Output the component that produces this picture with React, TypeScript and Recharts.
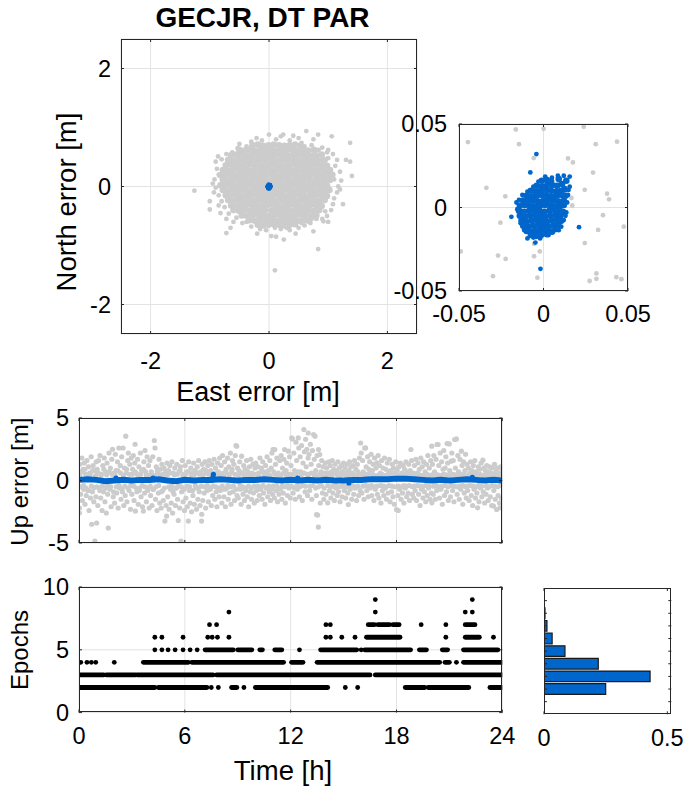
import React from 'react';
import { ScatterChart, Scatter, XAxis, YAxis, CartesianGrid, BarChart, Bar } from 'recharts';

type Pt = [number, number];

const FONT = '"Liberation Sans", Arial, Helvetica, sans-serif';
const GRAY = '#cccccc';
const BLUE = '#0066cc';
const AX = '#262626';
const GRID = '#e3e3e3';

// ---------- Horizontal errors (East, North) [m] ----------
const grayCore: Pt[] = [
  [-0.28,0.70],[-0.19,0.71],[-0.10,0.69],[-0.01,0.70],[0.08,0.71],[0.17,0.70],[0.26,0.69],[0.35,0.70],[0.44,0.71],[0.53,0.69],
  [-0.50,0.62],[-0.41,0.61],[-0.32,0.62],[-0.24,0.61],[-0.14,0.62],[-0.05,0.61],[0.04,0.62],[0.12,0.61],[0.22,0.62],[0.30,0.61],[0.40,0.62],[0.48,0.61],[0.58,0.62],[0.66,0.61],[0.76,0.62],
  [-0.64,0.53],[-0.55,0.54],[-0.46,0.53],[-0.37,0.52],[-0.28,0.53],[-0.19,0.54],[-0.10,0.53],[-0.01,0.52],[0.08,0.53],[0.17,0.54],[0.26,0.53],[0.35,0.52],[0.44,0.53],[0.53,0.54],[0.62,0.53],[0.71,0.52],[0.80,0.53],[0.89,0.54],
  [-0.69,0.45],[-0.60,0.44],[-0.51,0.45],[-0.42,0.44],[-0.33,0.45],[-0.24,0.44],[-0.15,0.45],[-0.06,0.44],[0.04,0.45],[0.13,0.44],[0.22,0.45],[0.31,0.44],[0.40,0.45],[0.49,0.44],[0.58,0.45],[0.67,0.44],[0.76,0.45],[0.85,0.44],[0.94,0.45],
  [-0.73,0.36],[-0.64,0.37],[-0.55,0.36],[-0.46,0.35],[-0.37,0.36],[-0.28,0.37],[-0.19,0.36],[-0.10,0.35],[-0.01,0.36],[0.08,0.37],[0.17,0.36],[0.26,0.35],[0.35,0.36],[0.44,0.37],[0.53,0.36],[0.62,0.35],[0.71,0.36],[0.80,0.37],[0.89,0.36],[0.98,0.35],
  [-0.78,0.28],[-0.69,0.27],[-0.60,0.28],[-0.51,0.27],[-0.42,0.28],[-0.33,0.27],[-0.24,0.28],[-0.15,0.27],[-0.06,0.28],[0.04,0.27],[0.13,0.28],[0.22,0.27],[0.31,0.28],[0.40,0.27],[0.49,0.28],[0.58,0.27],[0.67,0.28],[0.76,0.27],[0.85,0.28],[0.94,0.27],[1.03,0.28],
  [-0.82,0.19],[-0.73,0.20],[-0.64,0.19],[-0.55,0.18],[-0.46,0.19],[-0.37,0.20],[-0.28,0.19],[-0.19,0.18],[-0.10,0.19],[-0.01,0.20],[0.08,0.19],[0.17,0.18],[0.26,0.19],[0.35,0.20],[0.44,0.19],[0.53,0.18],[0.62,0.19],[0.71,0.20],[0.80,0.19],[0.89,0.18],[0.98,0.19],[1.07,0.20],
  [-0.78,0.11],[-0.69,0.10],[-0.60,0.11],[-0.51,0.10],[-0.42,0.11],[-0.33,0.10],[-0.24,0.11],[-0.15,0.10],[-0.06,0.11],[0.04,0.10],[0.13,0.11],[0.22,0.10],[0.31,0.11],[0.40,0.10],[0.49,0.11],[0.58,0.10],[0.67,0.11],[0.76,0.10],[0.85,0.11],[0.94,0.10],[1.03,0.11],
  [-0.82,0.02],[-0.73,0.03],[-0.64,0.02],[-0.55,0.01],[-0.46,0.02],[-0.37,0.03],[-0.28,0.02],[-0.19,0.01],[-0.10,0.02],[0.08,0.03],[0.17,0.02],[0.26,0.01],[0.35,0.02],[0.44,0.03],[0.53,0.02],[0.62,0.01],[0.71,0.02],[0.80,0.03],[0.89,0.02],[0.98,0.01],
  [-0.78,-0.06],[-0.69,-0.07],[-0.60,-0.06],[-0.51,-0.07],[-0.42,-0.06],[-0.33,-0.07],[-0.24,-0.06],[-0.15,-0.07],[-0.06,-0.065],[0.04,-0.07],[0.13,-0.06],[0.22,-0.07],[0.31,-0.06],[0.40,-0.07],[0.49,-0.06],[0.58,-0.07],[0.67,-0.06],[0.76,-0.07],[0.85,-0.06],[0.94,-0.07],[1.02,-0.06],
  [-0.73,-0.15],[-0.64,-0.14],[-0.55,-0.15],[-0.46,-0.16],[-0.37,-0.15],[-0.28,-0.14],[-0.19,-0.15],[-0.10,-0.16],[-0.01,-0.15],[0.08,-0.14],[0.17,-0.15],[0.26,-0.16],[0.35,-0.15],[0.44,-0.14],[0.53,-0.15],[0.62,-0.16],[0.71,-0.15],[0.80,-0.14],[0.89,-0.15],[0.98,-0.16],
  [-0.69,-0.23],[-0.60,-0.24],[-0.51,-0.23],[-0.42,-0.24],[-0.33,-0.23],[-0.24,-0.24],[-0.15,-0.23],[-0.06,-0.24],[0.04,-0.23],[0.13,-0.24],[0.22,-0.23],[0.31,-0.24],[0.40,-0.23],[0.49,-0.24],[0.58,-0.23],[0.67,-0.24],[0.76,-0.23],[0.85,-0.24],[0.94,-0.23],
  [-0.64,-0.32],[-0.55,-0.33],[-0.46,-0.32],[-0.37,-0.31],[-0.28,-0.32],[-0.19,-0.33],[-0.10,-0.32],[-0.01,-0.31],[0.08,-0.32],[0.17,-0.33],[0.26,-0.32],[0.35,-0.31],[0.44,-0.32],[0.53,-0.33],[0.62,-0.32],[0.71,-0.31],[0.80,-0.32],[0.89,-0.33],
  [-0.60,-0.40],[-0.51,-0.41],[-0.42,-0.40],[-0.33,-0.41],[-0.24,-0.40],[-0.15,-0.41],[-0.06,-0.40],[0.04,-0.41],[0.13,-0.40],[0.22,-0.41],[0.31,-0.40],[0.40,-0.41],[0.49,-0.40],[0.58,-0.41],[0.67,-0.40],[0.76,-0.41],[0.85,-0.40],
  [-0.46,-0.49],[-0.37,-0.50],[-0.28,-0.49],[-0.19,-0.48],[-0.10,-0.49],[-0.01,-0.50],[0.08,-0.49],[0.17,-0.48],[0.26,-0.49],[0.35,-0.50],[0.44,-0.49],[0.53,-0.48],[0.62,-0.49],[0.71,-0.50],[0.80,-0.49],
  [-0.33,-0.57],[-0.24,-0.58],[-0.15,-0.57],[-0.06,-0.58],[0.04,-0.57],[0.13,-0.58],[0.22,-0.57],[0.31,-0.58],[0.40,-0.57],[0.49,-0.58],[0.58,-0.57],[0.67,-0.58],
  [-0.19,-0.65],[-0.10,-0.66],[-0.01,-0.65],[0.08,-0.64],[0.17,-0.65],[0.26,-0.66],[0.35,-0.65],[0.44,-0.64],
];

const grayEdge: Pt[] = [
  [-0.21,0.82],[0.0,0.88],[0.24,0.88],[0.41,0.86],[0.63,0.94],[0.83,0.88],[1.06,0.85],[-0.38,0.68],[-0.53,0.65],[0.12,0.80],
  [0.35,0.78],[0.55,0.74],[0.72,0.70],[0.9,0.66],[-0.12,0.78],[1.0,0.62],[1.08,0.55],[1.37,0.74],[-0.3,0.76],[0.6,0.68],
  [0.84,0.62],[-0.62,0.58],[-0.72,0.55],[-0.5,0.72],[0.2,0.85],[0.5,0.82],[0.75,0.8],
  [-0.86,0.51],[-0.9,0.42],[-0.88,0.3],[-0.92,0.12],[-0.9,-0.02],[-1.26,-0.07],[-1.0,-0.25],[-1.0,-0.39],[-0.85,-0.32],
  [-0.82,-0.45],[-0.72,-0.55],[-0.6,-0.6],[-0.72,-0.79],[-0.85,-0.15],[-0.8,-0.25],[-0.75,-0.35],[-0.68,-0.46],[-0.55,-0.53],
  [-0.85,0.2],[-0.8,0.46],[-0.95,0.05],[-0.93,-0.1],[-0.65,-0.7],
  [1.37,0.42],[1.4,0.18],[1.17,0.0],[1.12,0.35],[1.15,-0.1],[1.25,-0.3],[1.1,-0.2],[1.05,-0.4],[0.98,-0.5],[1.2,0.25],
  [1.15,0.45],[1.22,0.1],[1.1,0.12],[1.08,-0.3],[0.95,-0.42],[0.9,-0.55],[1.0,0.48],[0.98,0.58],[1.2,-0.05],[1.0,-0.6],[1.3,0.45],
  [-0.45,-0.62],[-0.3,-0.68],[-0.15,-0.72],[-0.05,-0.74],[0.04,-0.84],[0.12,-0.85],[0.25,-0.9],[0.35,-0.74],[0.5,-0.7],
  [0.6,-0.66],[0.75,-0.76],[0.92,-0.59],[0.83,-1.06],[0.1,-1.42],[0.7,-0.62],[0.8,-0.55],[0.2,-0.72],[-0.38,-0.6],
  [0.55,-0.62],[0.3,-0.7],[0.1,-0.7],[0.72,-0.55],[0.45,-0.8],[-0.2,-0.8],
];

const grayNearZero: Pt[] = [
  [-0.0164,0.0467],[0.0001,0.0471],[0.0238,0.0483],[-0.0447,0.0392],[-0.0145,0.0379],[0.0309,0.0379],[0.0435,0.0394],
  [-0.0058,0.0296],[0.0145,0.0294],[0.0174,0.027],[0.0293,0.0209],[-0.0338,0.0118],[-0.0226,0.0067],[-0.0121,0.006],
  [0.0244,0.0106],[0.0376,0.0083],[0.0388,0.0049],[0.0165,0.0057],[0.017,0.0012],[0.0352,-0.0046],[-0.0255,-0.0091],
  [0.0323,-0.0134],[0.0475,-0.0115],[0.0244,-0.0213],[-0.0056,-0.0217],[-0.0022,-0.0263],[-0.049,-0.0263],[-0.0269,-0.0288],
  [-0.0224,-0.0308],[-0.0056,-0.0292],[-0.0299,-0.0411],[-0.0036,-0.042],[0.0273,-0.044],[0.0313,-0.0395],[0.0313,-0.0427],
  [0.0431,-0.0417],[0.0461,-0.0429],
];

const blueCore: Pt[] = [
  [-0.001,0.016],[0.002,0.0165],[0.0045,0.0155],
  [-0.004,0.013],[-0.001,0.0125],[0.002,0.013],[0.005,0.0135],[0.008,0.013],[0.011,0.014],[0.0135,0.016],[0.009,0.017],
  [-0.0075,0.01],[-0.0045,0.0095],[-0.0015,0.01],[0.0015,0.0105],[0.0045,0.01],[0.0075,0.0095],[0.0105,0.01],[0.0125,0.011],
  [-0.01,0.007],[-0.007,0.0065],[-0.004,0.007],[-0.001,0.0075],[0.002,0.007],[0.005,0.0065],[0.008,0.007],[0.011,0.0075],[0.013,0.007],
  [-0.012,0.004],[-0.009,0.0045],[-0.006,0.004],[-0.003,0.0035],[0,0.004],[0.003,0.0045],[0.006,0.004],[0.009,0.0035],[0.012,0.004],
  [-0.014,0.001],[-0.011,0.0015],[-0.008,0.001],[-0.005,0.0005],[-0.002,0.001],[0.001,0.0015],[0.004,0.001],[0.007,0.0005],[0.01,0.001],[0.012,0.0015],
  [-0.0145,-0.002],[-0.0115,-0.0025],[-0.0085,-0.002],[-0.0055,-0.0015],[-0.0025,-0.002],[0.0005,-0.0025],[0.0035,-0.002],[0.0065,-0.0015],[0.0095,-0.002],[0.0115,-0.0025],
  [-0.014,-0.005],[-0.011,-0.0055],[-0.008,-0.005],[-0.005,-0.0045],[-0.002,-0.005],[0.001,-0.0055],[0.004,-0.005],[0.007,-0.0045],[0.01,-0.005],
  [-0.013,-0.008],[-0.01,-0.0085],[-0.007,-0.008],[-0.004,-0.0075],[-0.001,-0.008],[0.002,-0.0085],[0.005,-0.008],[0.008,-0.0075],[0.0105,-0.008],
  [-0.012,-0.011],[-0.009,-0.0115],[-0.006,-0.011],[-0.003,-0.0105],[0,-0.011],[0.003,-0.0115],[0.006,-0.011],[0.0085,-0.0105],
  [-0.01,-0.014],[-0.007,-0.0145],[-0.004,-0.014],[-0.001,-0.0135],[0.002,-0.014],[0.005,-0.0145],
  [-0.0075,-0.0165],[-0.0045,-0.017],[-0.0015,-0.0165],[0.002,-0.016],
];

const blueEdge: Pt[] = [
  [-0.0155,-0.001],[-0.016,0.003],[-0.0135,-0.0095],[-0.0115,-0.0135],[-0.0095,-0.0185],[-0.006,-0.018],[-0.002,-0.0185],
  [0.003,-0.0165],[0.0072,-0.0135],[0.009,-0.0136],[0.0105,-0.0115],[0.012,-0.0075],[0.013,-0.005],[0.0135,-0.003],
  [0.014,0.003],[0.0145,0.0075],[0.0148,0.0105],[0.0155,0.0125],[0.0155,0.0185],[0.012,0.019],[0.0085,0.019],[0.005,0.0178],
  [0.001,0.0185],[-0.003,0.0155],[-0.006,0.0125],[-0.0095,0.0095],[-0.0125,0.0075],[-0.0145,0.0045],
  [-0.0042,0.032],[-0.0078,0.021],[-0.019,-0.0056],[0.021,-0.0118],[-0.0018,-0.0367],[-0.0048,-0.021],
];

// ---------- Up error [m] vs time [h] ----------
const upGray: Pt[] = [
  [0.02,-2.6],[0.03,-2.2],[0.05,1.3],[0.09,-1.1],[0.12,0.7],[0.16,1.8],[0.19,-1.6],[0.23,0.9],[0.27,-0.7],[0.3,1.4],[0.34,-1.9],[0.38,0.5],[0.41,-1.2],[0.45,1.6],[0.5,-0.8],[0.54,1.1],[0.57,-2.4],[0.61,0.6],[0.65,-1.4],[0.69,1.9],[0.72,-3.5],[0.76,-0.9],[0.8,1.2],[0.84,-1.7],[0.9,-4.85],[0.92,0.8],[0.96,-1.3],[0.98,1.5],
  [1.0,-3.4],[1.03,0.9],[1.07,-2.0],[1.11,1.6],[1.15,-0.6],[1.19,2.0],[1.23,-1.4],[1.27,0.5],[1.31,-2.4],[1.35,1.2],[1.39,-0.9],[1.43,1.8],[1.47,-1.7],[1.51,0.7],[1.55,-2.6],[1.59,1.4],[1.63,-1.1],[1.66,-3.8],[1.7,2.2],[1.74,-0.7],[1.78,1.0],[1.82,-2.1],[1.86,1.7],[1.9,2.5],[1.94,-1.3],[1.98,0.6],
  [2.02,-1.8],[2.06,2.1],[2.1,0.8],[2.14,-1.0],[2.18,1.5],[2.22,-2.2],[2.26,2.6],[2.3,-0.6],[2.34,1.2],[2.38,-1.5],[2.42,1.9],[2.46,-0.9],[2.5,2.6],[2.54,-2.0],[2.58,1.0],[2.62,-1.2],[2.65,3.55],[2.68,0.6],[2.72,-1.7],[2.76,1.6],[2.8,2.2],[2.84,-0.8],[2.88,1.3],[2.92,-2.3],[2.96,1.8],
  [3.0,-1.1],[3.04,0.9],[3.08,2.0],[3.12,-1.6],[3.16,1.4],[3.18,2.9],[3.2,-2.45],[3.24,0.6],[3.28,-0.9],[3.32,1.7],[3.36,-1.9],[3.4,1.1],[3.44,-0.6],[3.48,2.2],[3.52,-1.3],[3.56,0.8],[3.6,-2.1],[3.65,-2.45],[3.68,1.5],[3.72,-1.0],[3.74,2.4],[3.78,0.7],[3.82,-1.7],[3.86,1.9],[3.9,-0.8],[3.94,1.2],[3.98,-2.2],
  [4.02,1.6],[4.06,-1.2],[4.1,0.7],[4.14,-2.0],[4.18,1.9],[4.22,-0.7],[4.27,3.2],[4.31,2.6],[4.34,-1.5],[4.38,1.1],[4.42,-2.4],[4.46,0.6],[4.5,-1.0],[4.54,1.7],[4.58,-1.8],[4.62,0.9],[4.66,-2.2],[4.7,1.3],[4.74,-0.8],[4.78,-1.6],[4.82,1.0],[4.87,-3.25],[4.9,0.5],[4.94,-2.0],[4.97,-2.85],[4.99,1.4],
  [5.03,-1.3],[5.07,0.8],[5.11,-2.3],[5.15,1.2],[5.19,-0.7],[5.23,-1.8],[5.27,1.5],[5.31,-2.6],[5.35,0.6],[5.39,-1.1],[5.43,1.0],[5.47,-2.0],[5.51,-0.6],[5.55,1.3],[5.59,-1.5],[5.63,-3.2],[5.67,0.7],[5.71,-2.2],[5.75,1.1],[5.78,-4.85],[5.82,-0.9],[5.86,1.6],[5.9,-1.7],[5.94,0.5],[5.98,-2.4],
  [6.02,1.2],[6.06,-1.4],[6.1,0.7],[6.14,-2.1],[6.2,-3.25],[6.22,1.5],[6.26,-0.8],[6.3,-1.8],[6.34,1.0],[6.38,-2.5],[6.42,0.6],[6.46,-1.2],[6.5,1.4],[6.54,-1.9],[6.58,0.8],[6.62,-0.6],[6.66,-2.3],[6.7,1.1],[6.74,-1.5],[6.78,1.6],[6.82,-0.9],[6.86,-2.0],[6.9,0.7],[6.95,-3.25],[6.96,-2.7],[6.98,1.3],
  [7.02,-1.6],[7.06,0.9],[7.1,-1.0],[7.14,1.5],[7.18,-2.2],[7.22,0.6],[7.26,-0.8],[7.3,1.2],[7.34,-1.7],[7.38,1.6],[7.42,-0.6],[7.46,0.8],[7.5,-2.0],[7.54,1.3],[7.58,-1.2],[7.62,0.5],[7.66,1.7],[7.7,-1.5],[7.74,1.0],[7.78,-0.9],[7.82,-2.1],[7.86,1.4],[7.9,0.7],[7.94,-1.3],[7.98,1.8],
  [8.02,-0.8],[8.06,1.2],[8.1,-1.8],[8.14,2.0],[8.18,0.6],[8.22,-1.3],[8.26,1.5],[8.3,-2.1],[8.34,0.9],[8.38,-0.6],[8.42,1.8],[8.46,-1.5],[8.5,1.1],[8.54,-1.0],[8.58,2.2],[8.62,-1.9],[8.66,0.7],[8.7,1.6],[8.74,-0.9],[8.78,1.3],[8.82,-1.6],[8.86,2.0],[8.9,2.8],[8.94,2.75],[8.96,-1.2],[8.99,1.0],
  [9.03,-1.4],[9.07,0.8],[9.11,1.5],[9.15,-0.7],[9.19,-1.9],[9.22,1.95],[9.26,0.6],[9.3,-1.1],[9.34,1.2],[9.38,-1.6],[9.42,0.9],[9.46,-0.6],[9.5,1.6],[9.54,-1.3],[9.58,0.7],[9.62,-2.1],[9.66,1.1],[9.7,-0.9],[9.74,1.7],[9.78,-1.5],[9.82,0.6],[9.86,1.3],[9.9,-1.0],[9.94,-1.8],[9.98,1.0],
  [10.02,1.4],[10.06,-0.8],[10.1,-1.6],[10.14,1.1],[10.18,0.6],[10.22,-1.2],[10.26,1.8],[10.3,-0.7],[10.34,1.0],[10.38,-1.5],[10.42,1.5],[10.46,-1.0],[10.5,0.7],[10.54,-1.9],[10.58,1.2],[10.62,-0.6],[10.66,1.9],[10.7,-1.3],[10.74,0.8],[10.78,-0.9],[10.82,1.6],[10.86,-1.6],[10.9,1.0],[10.94,2.2],[10.98,-1.1],
  [11.0,2.48],[11.04,0.7],[11.08,-1.4],[11.1,2.48],[11.14,1.3],[11.18,-0.8],[11.22,1.8],[11.26,-1.7],[11.3,0.6],[11.34,-1.1],[11.38,1.6],[11.42,-0.7],[11.46,2.0],[11.5,-1.5],[11.54,1.0],[11.58,-1.0],[11.62,1.7],[11.66,2.48],[11.7,-1.8],[11.74,0.8],[11.78,1.4],[11.82,-1.2],[11.87,2.35],[11.9,-0.6],[11.94,1.9],[11.98,-1.4],
  [12.02,1.2],[12.06,3.41],[12.1,3.33],[12.14,-1.0],[12.18,2.2],[12.22,0.8],[12.26,-1.5],[12.3,3.06],[12.34,1.6],[12.38,-0.7],[12.43,3.41],[12.46,2.6],[12.5,-1.3],[12.54,1.9],[12.58,0.7],[12.62,2.8],[12.66,-1.6],[12.7,1.4],[12.75,4.08],[12.78,2.3],[12.82,-0.9],[12.85,3.3],[12.88,1.1],[12.92,2.5],[12.96,-1.2],[12.99,1.8],
  [13.0,3.8],[13.04,2.1],[13.08,-0.8],[13.12,2.9],[13.16,1.3],[13.2,-1.5],[13.24,2.4],[13.3,3.68],[13.34,1.7],[13.38,3.55],[13.42,0.8],[13.46,-1.2],[13.47,-2.73],[13.5,2.0],[13.53,-2.77],[13.57,-3.73],[13.58,2.48],[13.6,1.2],[13.65,2.08],[13.68,-1.8],[13.72,0.7],[13.76,1.6],[13.8,-1.0],[13.84,1.1],[13.88,-1.5],[13.92,0.6],[13.96,1.4],
  [14.0,-1.1],[14.04,1.0],[14.1,-1.79],[14.12,0.6],[14.16,1.5],[14.2,-0.8],[14.24,1.2],[14.28,-1.4],[14.32,0.7],[14.36,1.6],[14.4,-1.0],[14.44,0.9],[14.48,-1.6],[14.52,1.3],[14.56,-0.6],[14.6,0.8],[14.64,-1.2],[14.68,1.5],[14.72,-0.9],[14.76,1.0],[14.8,-1.7],[14.84,0.6],[14.88,1.2],[14.92,-1.3],[14.96,0.7],
  [15.0,1.4],[15.04,-0.8],[15.08,1.0],[15.12,-1.4],[15.16,0.6],[15.2,1.3],[15.24,-1.0],[15.27,-1.92],[15.3,0.8],[15.34,1.5],[15.38,-0.7],[15.42,1.1],[15.46,-1.5],[15.5,0.6],[15.54,1.2],[15.58,-1.1],[15.62,1.6],[15.66,-0.6],[15.7,0.9],[15.74,-1.6],[15.78,1.3],[15.82,0.7],[15.86,-1.2],[15.9,1.8],[15.94,-0.8],[15.97,3.0],
  [16.0,2.2],[16.04,-1.0],[16.08,1.6],[16.12,0.7],[16.16,-1.5],[16.2,2.6],[16.25,2.61],[16.28,1.1],[16.32,-0.8],[16.36,1.9],[16.4,-1.3],[16.44,0.9],[16.48,1.5],[16.52,-0.6],[16.56,2.1],[16.6,-1.2],[16.64,0.8],[16.68,1.3],[16.72,-1.6],[16.76,1.8],[16.8,-0.7],[16.84,1.0],[16.9,1.41],[16.92,-1.1],[16.96,2.0],
  [17.0,-1.4],[17.04,1.2],[17.08,0.6],[17.12,-1.8],[17.16,1.6],[17.2,-0.8],[17.24,1.0],[17.28,-1.2],[17.32,1.8],[17.36,-0.6],[17.4,0.9],[17.44,-1.5],[17.48,1.4],[17.52,-1.0],[17.56,0.7],[17.6,1.7],[17.64,-1.7],[17.68,0.8],[17.72,-0.9],[17.76,1.3],[17.8,-1.3],[17.84,1.0],[17.88,-1.9],[17.92,0.6],[17.96,1.5],
  [18.0,-2.32],[18.04,0.8],[18.08,-1.2],[18.1,-2.4],[18.14,1.1],[18.18,-0.7],[18.22,1.4],[18.26,-1.5],[18.3,0.6],[18.34,-1.0],[18.38,1.2],[18.42,-1.8],[18.46,0.9],[18.5,-0.6],[18.54,1.5],[18.58,-1.3],[18.62,0.7],[18.66,-1.0],[18.7,1.3],[18.74,-1.6],[18.78,0.8],[18.82,2.48],[18.86,1.6],[18.9,-1.1],[18.94,0.6],[18.98,-1.4],
  [19.02,1.2],[19.06,-0.8],[19.1,1.7],[19.14,-1.6],[19.18,0.6],[19.22,1.4],[19.26,-1.1],[19.3,0.9],[19.34,-2.0],[19.38,1.8],[19.42,-0.7],[19.46,1.1],[19.5,-1.4],[19.54,1.5],[19.58,-0.9],[19.62,0.7],[19.66,-1.7],[19.7,1.3],[19.74,-1.2],[19.78,2.0],[19.82,-0.6],[19.86,1.0],[19.9,-1.5],[19.94,1.6],[19.98,-1.0],
  [20.0,2.75],[20.01,-1.79],[20.04,1.3],[20.08,-1.1],[20.12,2.0],[20.16,0.7],[20.2,-1.5],[20.24,1.7],[20.28,-0.8],[20.3,2.88],[20.36,2.88],[20.4,1.2],[20.44,-1.4],[20.48,2.2],[20.52,-0.7],[20.56,1.5],[20.6,-1.9],[20.64,0.9],[20.68,2.4],[20.72,-1.2],[20.76,1.0],[20.8,1.9],[20.84,-0.9],[20.87,2.96],[20.9,1.4],[20.94,-1.6],[20.99,2.93],
  [21.02,0.8],[21.06,-1.3],[21.1,1.55],[21.14,2.2],[21.18,-0.8],[21.22,1.6],[21.26,-1.7],[21.3,3.28],[21.34,1.0],[21.4,3.33],[21.44,-1.1],[21.48,2.0],[21.52,0.7],[21.56,-1.5],[21.6,1.7],[21.64,-0.7],[21.68,2.35],[21.72,1.2],[21.76,-1.9],[21.8,1.5],[21.84,-1.0],[21.88,0.8],[21.92,2.1],[21.96,-1.4],
  [22.0,1.3],[22.04,-0.8],[22.08,1.0],[22.12,-1.6],[22.16,0.6],[22.2,1.5],[22.24,-1.2],[22.28,0.8],[22.32,-2.0],[22.36,1.2],[22.4,-0.7],[22.44,1.6],[22.48,-1.4],[22.52,0.7],[22.56,-1.0],[22.6,-2.19],[22.64,1.1],[22.68,-1.7],[22.72,0.9],[22.76,-0.6],[22.8,1.4],[22.84,-1.3],[22.9,1.63],[22.92,-0.9],[22.96,1.0],
  [23.0,-1.8],[23.04,0.8],[23.08,-1.1],[23.12,1.2],[23.16,-0.6],[23.2,-1.6],[23.24,0.7],[23.28,1.1],[23.32,-1.3],[23.36,0.6],[23.4,-2.0],[23.44,1.0],[23.5,-2.05],[23.52,-0.8],[23.56,1.3],[23.6,-1.5],[23.64,0.7],[23.68,-2.32],[23.72,1.0],[23.76,-1.2],[23.8,0.6],[23.84,-1.8],[23.87,-2.19],[23.9,1.1],[23.94,-1.4],[23.98,0.9],
];

// small-magnitude float solutions hugging the fixed solutions
const upGrayNear: Pt[] = [
  [0.04,0.4],[0.11,-0.5],[0.18,0.7],[0.26,-0.4],[0.33,0.9],[0.4,-0.6],[0.48,0.45],[0.55,-0.8],[0.63,0.5],[0.7,-0.45],[0.78,0.8],[0.86,-0.55],[0.94,0.4],
  [1.02,-0.5],[1.1,0.6],[1.18,-0.8],[1.25,0.4],[1.33,-0.45],[1.41,0.9],[1.49,-0.6],[1.57,0.45],[1.65,-0.4],[1.72,0.7],[1.8,-0.5],[1.88,0.5],[1.96,-0.9],
  [2.04,0.45],[2.12,-0.5],[2.2,0.8],[2.28,-0.4],[2.36,0.6],[2.44,-0.7],[2.52,0.4],[2.6,-0.45],[2.7,0.9],[2.78,-0.6],[2.86,0.5],[2.94,-0.4],
  [3.02,0.5],[3.1,-0.45],[3.18,0.7],[3.26,-0.6],[3.34,0.4],[3.42,-0.8],[3.5,0.5],[3.58,-0.4],[3.66,0.9],[3.74,-0.5],[3.82,0.45],[3.9,-0.6],[3.97,0.4],
  [4.04,-0.45],[4.12,0.5],[4.2,-0.7],[4.28,0.4],[4.36,-0.5],[4.44,0.8],[4.52,-0.4],[4.6,0.45],[4.68,-0.9],[4.76,0.5],[4.84,-0.6],[4.92,0.7],
  [5.01,0.45],[5.09,-0.5],[5.17,0.6],[5.25,-0.4],[5.33,-0.9],[5.41,0.45],[5.49,-0.6],[5.57,0.5],[5.65,-0.45],[5.73,0.8],[5.81,-0.5],[5.89,0.4],[5.96,-0.7],
  [6.04,0.5],[6.12,-0.45],[6.2,0.7],[6.28,-0.5],[6.36,0.4],[6.44,-0.8],[6.52,0.45],[6.6,-0.4],[6.68,0.6],[6.76,-0.6],[6.84,0.5],[6.92,-0.45],
  [7.04,0.45],[7.12,-0.5],[7.2,0.8],[7.28,-0.4],[7.36,0.5],[7.44,-0.7],[7.52,0.4],[7.6,-0.45],[7.68,0.6],[7.76,-0.5],[7.84,0.45],[7.92,-0.6],
  [8.04,0.5],[8.12,-0.45],[8.2,0.4],[8.28,-0.7],[8.36,0.6],[8.44,-0.4],[8.52,0.45],[8.6,-0.5],[8.68,0.9],[8.76,-0.45],[8.84,0.5],[8.92,-0.7],
  [9.05,0.45],[9.13,-0.4],[9.21,0.6],[9.29,-0.5],[9.37,0.4],[9.45,-0.8],[9.53,0.5],[9.61,-0.45],[9.69,0.45],[9.77,-0.6],[9.85,0.4],[9.93,-0.45],
  [10.04,0.5],[10.12,-0.45],[10.2,0.4],[10.28,-0.5],[10.36,0.7],[10.44,-0.4],[10.52,0.45],[10.6,-0.6],[10.68,0.5],[10.76,-0.45],[10.84,0.4],[10.92,-0.7],
  [11.02,-0.45],[11.12,0.5],[11.2,-0.4],[11.28,0.45],[11.36,-0.6],[11.44,0.4],[11.52,-0.45],[11.6,0.6],[11.68,-0.5],[11.76,0.45],[11.84,-0.4],[11.92,0.5],
  [12.04,-0.45],[12.12,0.5],[12.2,-0.6],[12.28,0.45],[12.36,-0.4],[12.44,0.7],[12.52,-0.5],[12.6,0.45],[12.68,-0.4],[12.76,0.6],[12.84,-0.45],[12.92,0.5],
  [13.02,0.5],[13.1,-0.45],[13.18,0.6],[13.26,-0.4],[13.34,0.45],[13.42,-0.6],[13.5,0.4],[13.58,-0.5],[13.66,0.5],[13.74,-0.4],[13.82,0.45],[13.9,-0.6],
  [14.02,0.45],[14.1,-0.4],[14.18,0.5],[14.26,-0.5],[14.34,0.4],[14.42,-0.45],[14.5,0.6],[14.58,-0.4],[14.66,0.45],[14.74,-0.5],[14.82,0.4],[14.9,-0.45],
  [15.02,-0.4],[15.1,0.45],[15.18,-0.5],[15.26,0.4],[15.34,-0.45],[15.42,0.5],[15.5,-0.4],[15.58,0.45],[15.66,-0.5],[15.74,0.4],[15.82,-0.45],[15.92,0.5],
  [16.02,0.5],[16.1,-0.45],[16.18,0.45],[16.26,-0.4],[16.34,0.5],[16.42,-0.45],[16.5,0.6],[16.58,-0.4],[16.66,0.45],[16.74,-0.5],[16.82,0.4],[16.9,-0.45],
  [17.02,0.45],[17.1,-0.4],[17.18,0.5],[17.26,-0.45],[17.34,0.4],[17.42,-0.5],[17.5,0.45],[17.58,-0.4],[17.66,0.5],[17.74,-0.45],[17.82,0.45],[17.9,-0.5],
  [18.02,0.45],[18.1,-0.45],[18.18,0.4],[18.26,-0.5],[18.34,0.45],[18.42,-0.4],[18.5,0.5],[18.58,-0.45],[18.66,0.45],[18.74,-0.4],[18.82,0.5],[18.9,-0.5],
  [19.02,-0.45],[19.1,0.45],[19.18,-0.4],[19.26,0.5],[19.34,-0.45],[19.42,0.4],[19.5,-0.5],[19.58,0.45],[19.66,-0.4],[19.74,0.5],[19.82,-0.45],[19.9,0.4],
  [20.02,0.45],[20.1,-0.45],[20.18,0.5],[20.26,-0.4],[20.34,0.45],[20.42,-0.5],[20.5,0.4],[20.58,-0.45],[20.66,0.5],[20.74,-0.4],[20.82,0.45],[20.92,-0.5],
  [21.04,0.45],[21.12,-0.4],[21.2,0.5],[21.28,-0.45],[21.36,0.45],[21.44,-0.5],[21.52,0.4],[21.6,-0.45],[21.68,0.5],[21.76,-0.4],[21.84,0.45],[21.92,-0.5],
  [22.02,-0.45],[22.1,0.45],[22.18,-0.4],[22.26,0.5],[22.34,-0.45],[22.42,0.4],[22.5,-0.5],[22.58,0.45],[22.66,-0.4],[22.74,0.5],[22.82,-0.45],[22.9,0.4],
  [23.02,0.45],[23.1,-0.45],[23.18,0.4],[23.26,-0.5],[23.34,0.45],[23.42,-0.4],[23.5,0.5],[23.58,-0.45],[23.66,0.4],[23.74,-0.5],[23.82,0.45],[23.9,-0.4],[23.97,0.45],
];

const upBlueLine: Pt[] = [
  [0,0.05],[0.5,0.1],[1,0.05],[1.5,-0.05],[2,0],[2.5,0.05],[3,0],[3.5,0.05],[4,0.05],[4.5,0.1],[5,0],[5.5,-0.05],
  [6,0.05],[6.5,0],[7,0.05],[7.5,0.05],[8,0.1],[8.5,0.05],[9,0],[9.5,0.05],[10,0.05],[10.5,0.1],[11,0.05],[11.5,0],
  [12,0.05],[12.5,0],[13,0.05],[13.5,0],[14,0.05],[14.5,0],[15,0],[15.5,0.05],[16,0.05],[16.5,0.1],[17,0.1],[17.5,0.1],
  [18,0.15],[18.5,0.15],[19,0.1],[19.5,0.05],[20,0],[20.5,0.05],[21,0],[21.5,0.05],[22,0.1],[22.5,0.05],[23,0],[23.5,0.05],[24,0],
];
const upBlueDots: Pt[] = [[7.62,0.5],[7.6,0.3],[22.3,0.25],[2.1,0.2],[12.4,0.2],[4.2,0.2],[15.3,-0.2]];

// ---------- Fixed epochs per time [h] ----------
// runs: [epochs, start hour, end hour]
const epochRuns: [number, number, number][] = [
  [2,0,4.3],[2,4.5,7.25],[2,8.65,8.95],[2,10.0,14.1],[2,18.5,19.6],[2,19.8,22.1],[2,23.3,24],
  [3,0,1.4],[3,1.55,3.2],[3,3.3,7.6],[3,7.8,16.5],[3,16.8,24],
  [4,3.65,6.2],[4,6.4,11.6],[4,12.05,12.7],[4,13.5,20.45],[4,20.75,21.0],[4,21.8,24],
  [5,7.15,8.75],[5,9.0,9.8],[5,10.25,10.4],[5,11.1,11.5],[5,13.7,15.75],[5,16.2,18.8],[5,19.3,19.7],[5,20.6,20.9],[5,21.8,23.75],
  [6,16.3,18.2],[6,21.9,22.7],
  [7,16.4,16.75],[7,16.95,17.6],[7,17.8,18.15],[7,21.9,22.45],
];
// single epochs: [hour, epochs]
const epochDots: Pt[] = [
  [7.5,2],[7.9,2],[9.35,2],[15.1,2],[15.8,2],
  [0.1,4],[0.45,4],[0.7,4],[0.95,4],[2.0,4],[21.4,4],
  [4.3,5],[4.7,5],[5.05,5],[5.45,5],[5.9,5],[6.3,5],[6.7,5],[12.5,5],[16.0,5],
  [4.3,6],[4.7,6],[5.9,6],[7.3,6],[7.55,6],[7.85,6],[8.5,6],[14.0,6],[14.25,6],[14.9,6],[15.65,6],[20.8,6],[23.5,6],
  [7.4,7],[7.8,7],[14.0,7],[14.25,7],[19.4,7],[20.8,7],
  [8.5,8],[16.8,8],[21.9,8],[22.3,8],
  [16.8,9],[22.3,9],
];

// ---------- Histogram of epochs ----------
const histEpochs = [2, 3, 4, 5, 6, 7, 8, 9];
const histFrac = [0.25, 0.43, 0.22, 0.085, 0.033, 0.012, 0.004, 0.0015];

// ---------- tick labels ----------
const ticksEN = [-2, 0, 2];
const ticksZoom = [-0.05, 0, 0.05];
const ticksUp = [-5, 0, 5];
const ticksTime = [0, 6, 12, 18, 24];
const ticksEpochs = [0, 5, 10];
const ticksHistY = [1, 2, 3, 4, 5, 6, 7, 8, 9];
const ticksHistX = [0, 0.5];

const toXY = (a: Pt[]) => a.map(([x, y]) => ({ x, y }));

const PADT = 18, PADR = 36, YW = 84, XH = 48;
const TICK_FS = 23.5;
const TL = 3;

type Geo = { left: number; top: number; w: number; h: number };
const G1: Geo = { left: 121.3, top: 39.3, w: 296, h: 295 };
const G2: Geo = { left: 459.3, top: 123.7, w: 169, h: 167 };
const G3: Geo = { left: 79, top: 418.3, w: 423.3, h: 125 };
const G4: Geo = { left: 79, top: 586.7, w: 423.3, h: 125.6 };
const G5: Geo = { left: 543.7, top: 587.7, w: 127.3, h: 126.3 };

const fmt = (v: number) => String(v);

function makeXTick(g: Geo, show: boolean, off: number) {
  return (p: any) => {
    const x = p.x;
    const yb = PADT + g.h;
    const yt = PADT;
    return (
      <g>
        <line x1={x} x2={x} y1={yb} y2={yb - TL} stroke={AX} strokeWidth={1} />
        <line x1={x} x2={x} y1={yt} y2={yt + TL} stroke={AX} strokeWidth={1} />
        {show ? (
          <text x={x} y={yb + off + 0.358 * TICK_FS} textAnchor="middle" fontSize={TICK_FS} fontFamily={FONT} fill="#000">
            {fmt(p.payload.value)}
          </text>
        ) : null}
      </g>
    );
  };
}

function makeYTick(g: Geo, show: boolean, gap: number) {
  return (p: any) => {
    const y = p.y;
    const xl = YW;
    const xr = YW + g.w;
    return (
      <g>
        <line x1={xl} x2={xl + TL} y1={y} y2={y} stroke={AX} strokeWidth={1} />
        <line x1={xr} x2={xr - TL} y1={y} y2={y} stroke={AX} strokeWidth={1} />
        {show ? (
          <text x={xl - gap} y={y + 0.358 * TICK_FS} textAnchor="end" fontSize={TICK_FS} fontFamily={FONT} fill="#000">
            {fmt(p.payload.value)}
          </text>
        ) : null}
      </g>
    );
  };
}

const dot = (r: number, fill: string) => (p: any) => <circle cx={p.cx} cy={p.cy} r={r} fill={fill} />;
const noDot = () => <g />;

function Box({ g }: { g: Geo }) {
  return (
    <div
      style={{
        position: 'absolute', left: YW, top: PADT, width: g.w, height: g.h,
        border: `1.2px solid ${AX}`, boxSizing: 'border-box', pointerEvents: 'none',
      }}
    />
  );
}

function Panel(props: {
  g: Geo; xDomain: [number, number]; yDomain: [number, number]; xTicks: number[]; yTicks: number[];
  xLabels: boolean; yLabels: boolean; xOff?: number; yGap?: number; children?: React.ReactNode;
}) {
  const { g, xDomain, yDomain, xTicks, yTicks, xLabels, yLabels, xOff = 25, yGap = 10, children } = props;
  const W = YW + g.w + PADR;
  const H = PADT + g.h + XH;
  return (
    <div style={{ position: 'absolute', left: g.left - YW, top: g.top - PADT, width: W, height: H }}>
      <ScatterChart width={W} height={H} margin={{ top: PADT, right: PADR, bottom: 0, left: 0 }}>
        <CartesianGrid stroke={GRID} strokeWidth={1} />
        <XAxis type="number" dataKey="x" domain={xDomain} ticks={xTicks} allowDataOverflow interval={0}
          tickLine={false} axisLine={false} height={XH} tick={makeXTick(g, xLabels, xOff)} />
        <YAxis type="number" dataKey="y" domain={yDomain} ticks={yTicks} allowDataOverflow interval={0}
          tickLine={false} axisLine={false} width={YW} tick={makeYTick(g, yLabels, yGap)} />
        {children}
      </ScatterChart>
      <Box g={g} />
    </div>
  );
}

function Histogram() {
  const g = G5;
  const W = YW + g.w + PADR;
  const H = PADT + g.h + XH;
  const rows = histEpochs.map((e, i) => ({ epochs: e, frac: histFrac[i] }));
  return (
    <div style={{ position: 'absolute', left: g.left - YW, top: g.top - PADT, width: W, height: H }}>
      <BarChart layout="vertical" data={rows} width={W} height={H} margin={{ top: PADT, right: PADR, bottom: 0, left: 0 }}>
        <XAxis type="number" domain={[0, 0.516]} ticks={ticksHistX} allowDataOverflow interval={0}
          tickLine={false} axisLine={false} height={XH} tick={makeXTick(g, true, 23)} />
        <YAxis type="number" dataKey="epochs" domain={[0, 10]} ticks={ticksHistY} reversed allowDataOverflow interval={0}
          tickLine={false} axisLine={false} width={YW} tick={makeYTick(g, false, 10)} />
        <Bar dataKey="frac" fill={BLUE} stroke="#1a1a1a" strokeWidth={1.2} barSize={10.6} isAnimationActive={false} />
      </BarChart>
      <Box g={g} />
    </div>
  );
}

export default function App() {
  const gCore = toXY(grayCore);
  const gEdge = toXY(grayEdge);
  const gZero = toXY(grayNearZero);
  const bCore = toXY(blueCore);
  const bEdge = toXY(blueEdge);
  const upG = toXY(upGray);
  const upGN = toXY(upGrayNear);
  const upBL = toXY(upBlueLine);
  const upBD = toXY(upBlueDots);
  const eDots = toXY(epochDots);

  return (
    <div style={{ position: 'absolute', left: 0, top: 0, width: 685, height: 788, background: '#fff', fontFamily: FONT }}>
      <Panel g={G1} xDomain={[-2.5, 2.5]} yDomain={[-2.5, 2.5]} xTicks={ticksEN} yTicks={ticksEN} xLabels yLabels xOff={27}>
        <Scatter data={gCore} shape={dot(3.3, GRAY)} isAnimationActive={false} />
        <Scatter data={gEdge} shape={dot(2.4, GRAY)} isAnimationActive={false} />
        <Scatter data={gZero} shape={dot(2.4, GRAY)} isAnimationActive={false} />
        <Scatter data={bCore} shape={dot(2.5, BLUE)} isAnimationActive={false} />
        <Scatter data={bEdge} shape={dot(2.3, BLUE)} isAnimationActive={false} />
      </Panel>

      <Panel g={G2} xDomain={[-0.05, 0.05]} yDomain={[-0.05, 0.05]} xTicks={ticksZoom} yTicks={ticksZoom} xLabels yLabels xOff={23} yGap={12}>
        <Scatter data={gCore} shape={dot(2.4, GRAY)} isAnimationActive={false} />
        <Scatter data={gEdge} shape={dot(2.4, GRAY)} isAnimationActive={false} />
        <Scatter data={gZero} shape={dot(2.4, GRAY)} isAnimationActive={false} />
        <Scatter data={bCore} shape={dot(3.3, BLUE)} isAnimationActive={false} />
        <Scatter data={bEdge} shape={dot(2.4, BLUE)} isAnimationActive={false} />
      </Panel>

      <Panel g={G3} xDomain={[0, 24]} yDomain={[-5, 5]} xTicks={ticksTime} yTicks={ticksUp} xLabels={false} yLabels>
        <Scatter data={upG} shape={dot(2.6, GRAY)} isAnimationActive={false} />
        <Scatter data={upGN} shape={dot(2.6, GRAY)} isAnimationActive={false} />
        <Scatter data={upBL} shape={noDot} line={{ stroke: BLUE, strokeWidth: 6 }} isAnimationActive={false} />
        <Scatter data={upBD} shape={dot(2.6, BLUE)} isAnimationActive={false} />
      </Panel>

      <Panel g={G4} xDomain={[0, 24]} yDomain={[0, 10]} xTicks={ticksTime} yTicks={ticksEpochs} xLabels yLabels xOff={23}>
        {epochRuns.map(([lvl, s, e], i) => (
          <Scatter key={'run' + i} data={[{ x: s, y: lvl }, { x: e, y: lvl }]} shape={noDot}
            line={{ stroke: '#000', strokeWidth: 4.8, strokeLinecap: 'round' }} isAnimationActive={false} />
        ))}
        <Scatter data={eDots} shape={dot(2.4, '#000')} isAnimationActive={false} />
      </Panel>

      <Histogram />

      <svg width={685} height={788} style={{ position: 'absolute', left: 0, top: 0, pointerEvents: 'none' }}>
        <text x={262.5} y={27} textAnchor="middle" fontSize={28} fontWeight="bold" fontFamily={FONT} fill="#000">GECJR, DT PAR</text>
        <text x={258} y={401} textAnchor="middle" fontSize={27} fontFamily={FONT} fill="#000">East error [m]</text>
        <text transform="translate(76,202) rotate(-90)" textAnchor="middle" fontSize={27.5} fontFamily={FONT} fill="#000">North error [m]</text>
        <text transform="translate(28,481.7) rotate(-90)" textAnchor="middle" fontSize={24} fontFamily={FONT} fill="#000">Up error [m]</text>
        <text transform="translate(28,650) rotate(-90)" textAnchor="middle" fontSize={24} fontFamily={FONT} fill="#000">Epochs</text>
        <text x={283} y={780} textAnchor="middle" fontSize={27.5} fontFamily={FONT} fill="#000">Time [h]</text>
      </svg>
    </div>
  );
}
